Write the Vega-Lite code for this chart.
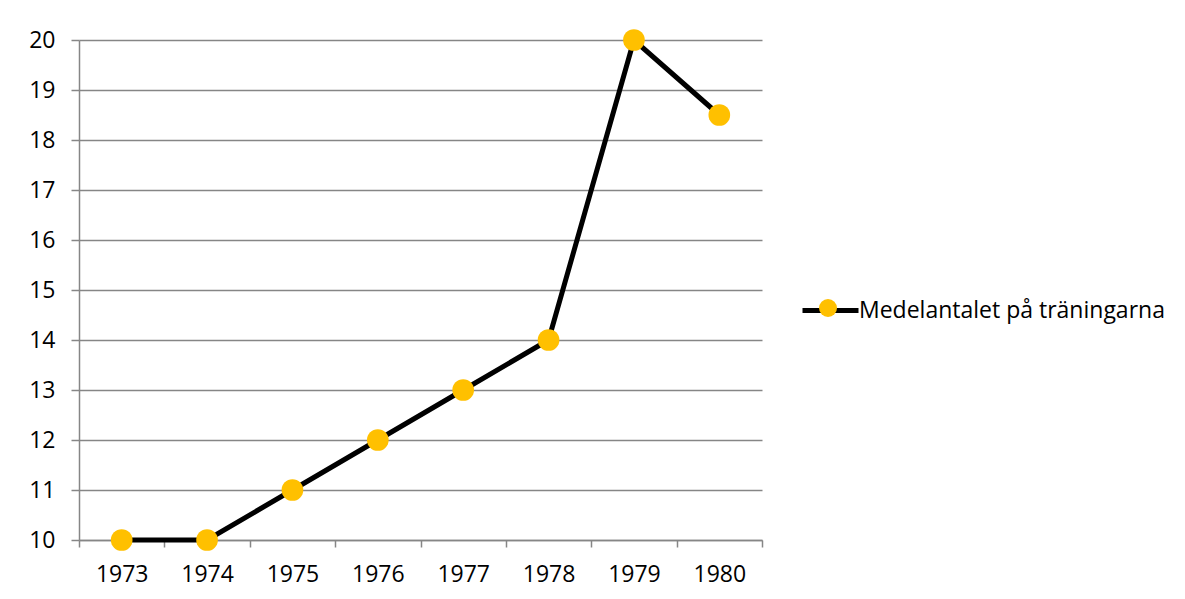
{
  "$schema": "https://vega.github.io/schema/vega-lite/v6.json",
  "width": 683,
  "height": 500,
  "autosize": "none",
  "padding": {"left": 79, "top": 40, "right": 423, "bottom": 59},
  "background": "white",
  "config": {
    "view": {"stroke": null},
    "font": "Open Sans",
    "axis": {"labelFont": "Open Sans", "labelColor": "#000000"},
    "legend": {"labelFont": "Open Sans"}
  },
  "data": {
    "values": [
      {"year": "1973", "value": 10, "serie": "Medelantalet på träningarna"},
      {"year": "1974", "value": 10, "serie": "Medelantalet på träningarna"},
      {"year": "1975", "value": 11, "serie": "Medelantalet på träningarna"},
      {"year": "1976", "value": 12, "serie": "Medelantalet på träningarna"},
      {"year": "1977", "value": 13, "serie": "Medelantalet på träningarna"},
      {"year": "1978", "value": 14, "serie": "Medelantalet på träningarna"},
      {"year": "1979", "value": 20, "serie": "Medelantalet på träningarna"},
      {"year": "1980", "value": 18.5, "serie": "Medelantalet på träningarna"}
    ]
  },
  "encoding": {
    "x": {
      "field": "year",
      "type": "ordinal",
      "scale": {"type": "band", "paddingInner": 0, "paddingOuter": 0},
      "axis": {
        "title": null,
        "labelAngle": 0,
        "labelFontSize": 23,
        "labelPadding": 16,
        "tickBand": "extent",
        "tickSize": 7,
        "tickColor": "#868686",
        "tickWidth": 1.5,
        "domainColor": "#868686",
        "domainWidth": 1.5,
        "grid": false
      }
    },
    "y": {
      "field": "value",
      "type": "quantitative",
      "scale": {"domain": [10, 20], "nice": false, "zero": false},
      "axis": {
        "title": null,
        "values": [10, 11, 12, 13, 14, 15, 16, 17, 18, 19, 20],
        "labelFontSize": 23,
        "labelPadding": 16,
        "tickSize": 8,
        "tickColor": "#868686",
        "tickWidth": 1.5,
        "domainColor": "#868686",
        "domainWidth": 1.5,
        "grid": true,
        "gridColor": "#868686",
        "gridWidth": 1.5
      }
    }
  },
  "layer": [
    {
      "mark": {"type": "line", "strokeWidth": 5, "strokeCap": "round"},
      "encoding": {
        "stroke": {
          "field": "serie",
          "type": "nominal",
          "scale": {"domain": ["Medelantalet på träningarna"], "range": ["#000000"]},
          "legend": {
            "title": null,
            "orient": "none",
            "legendX": 721,
            "legendY": 240,
            "padding": 0,
            "symbolType": "stroke",
            "symbolSize": 3136,
            "symbolStrokeWidth": 5,
            "labelFontSize": 23,
            "labelOffset": -2,
            "labelLimit": 500,
            "labelColor": "#000000"
          }
        }
      }
    },
    {
      "mark": {"type": "point", "filled": true, "size": 470, "opacity": 1, "shape": "circle"},
      "encoding": {
        "fill": {
          "field": "serie",
          "type": "nominal",
          "scale": {"range": ["#FFC000"]},
          "legend": {
            "title": null,
            "orient": "none",
            "legendX": 740,
            "legendY": 259,
            "padding": 0,
            "symbolType": "circle",
            "symbolSize": 324,
            "symbolStrokeWidth": 0,
            "symbolOpacity": 1,
            "labelExpr": "''"
          }
        }
      }
    }
  ]
}
